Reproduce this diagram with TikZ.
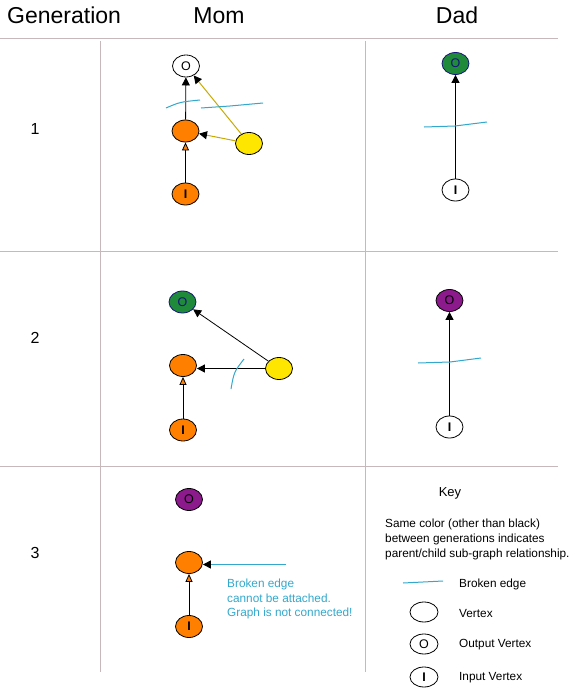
\documentclass[tikz,border=0pt]{standalone}
\usepackage{fontspec}
\setmainfont{Liberation Sans}
\usetikzlibrary{shapes.geometric,arrows.meta}
\definecolor{gridc}{RGB}{200,184,188}
\definecolor{brk}{RGB}{51,168,204}
\definecolor{orng}{RGB}{255,128,0}
\definecolor{ylw}{RGB}{255,230,0}
\definecolor{grn}{RGB}{30,138,58}
\definecolor{prp}{RGB}{140,26,140}
\definecolor{nvy}{RGB}{20,20,120}
\definecolor{gold}{RGB}{200,170,0}
\begin{document}
\begin{tikzpicture}[x=1pt,y=-1pt,
  vtx/.style={ellipse, draw=black, line width=0.8pt, minimum width=27pt, minimum height=22pt, inner sep=0pt, font=\fontsize{12.5}{12.5}\selectfont},
  outw/.style={vtx, fill=white},
  orn/.style={vtx, fill=orng},
  yel/.style={vtx, fill=ylw},
  gre/.style={vtx, fill=grn, draw=nvy, text=nvy},
  pur/.style={vtx, fill=prp},
  blk/.style={-{Triangle[length=8pt,width=8pt]}, black, line width=0.8pt},
  orarr/.style={-{Triangle[length=8pt,width=7pt,fill=orng]}, black, line width=0.8pt},
  goldarr/.style={-{Triangle[length=8pt,width=8pt,color=black]}, gold, line width=1pt},
  brkline/.style={brk, line width=1pt},
  gridline/.style={gridc, line width=1pt},
  head/.style={font=\fontsize{23}{23}\selectfont, inner sep=0pt},
  gen/.style={font=\fontsize{16}{16}\selectfont, inner sep=0pt},
  small/.style={font=\fontsize{11.8}{14.5}\selectfont, inner sep=0pt, align=left}
]
\useasboundingbox (0,0) rectangle (572,688);

% grid
\draw[gridline] (0,38.5) -- (558,38.5);
\draw[gridline] (0,251) -- (558,251);
\draw[gridline] (0,466) -- (558,466);
\draw[gridline] (100,41) -- (100,672);
\draw[gridline] (365,41) -- (365,672);

% headers
\node[head, anchor=base west] (hgen) at (7,23.5) {Generation};
\node[head, anchor=base] (hmom) at (219,23.5) {Mom};
\node[head, anchor=base] (hdad) at (457,23.5) {Dad};
\node[gen] (g1) at (35,129) {1};
\node[gen] (g2) at (35,338) {2};
\node[gen] (g3) at (35,553) {3};

% Generation 1, Mom
\node[outw] (o1) at (186,66) {O};
\node[orn] (m1) at (185.5,131) {};
\node[yel] (y1) at (249,143.5) {};
\node[orn] (i1) at (185.5,194) {\bfseries I};
\draw[orarr] (i1) -- (m1);
\draw[blk] (m1) -- (o1);
\draw[goldarr] (y1) -- (m1);
\draw[goldarr] (y1) -- (o1);
\draw[brkline] (166,108) .. controls (180,102) .. (200,100);
\draw[brkline] (201,108) -- (230,106) -- (263,103);

% Generation 1, Dad
\node[gre] (do1) at (455.5,63.5) {O};
\node[outw] (di1) at (455.5,190) {\bfseries I};
\draw[blk] (di1) -- (do1);
\draw[brkline] (424,127) -- (455,126) -- (487,122);

% Generation 2, Mom
\node[gre] (o2) at (182.5,302) {O};
\node[orn] (m2) at (183,365.5) {};
\node[yel] (y2) at (279,368.5) {};
\node[orn] (i2) at (183,430) {\bfseries I};
\draw[orarr] (i2) -- (m2);
\draw[blk] (y2) -- (o2);
\draw[blk] (y2.west) -- (m2.east |- y2.west);
\draw[brkline] (244,359) .. controls (234,372) .. (231,389);

% Generation 2, Dad
\node[pur] (do2) at (449.5,300.5) {O};
\node[outw] (di2) at (449.5,427) {\bfseries I};
\draw[blk] (di2) -- (do2);
\draw[brkline] (418,363) -- (450,362) -- (481,358);

% Generation 3, Mom
\node[pur] (o3) at (189,499.5) {O};
\node[orn] (m3) at (189,562.5) {};
\node[orn] (i3) at (189,626.5) {\bfseries I};
\draw[orarr] (i3) -- (m3);
\coordinate (c3) at (286,564.5);
\draw[-{Triangle[length=8pt,width=8pt,color=black]}, brk, line width=1pt] (c3) -- (m3.east |- c3);
\node[small, text=brk, anchor=north west] (note) at (227,579) {Broken edge\\cannot be attached.\\Graph is not connected!};

% Key
\node[font=\fontsize{13}{13}\selectfont, inner sep=0pt] (key) at (450,493) {Key};
\node[small, anchor=north west, font=\fontsize{11.8}{15}\selectfont] (keytxt) at (385,519) {Same color (other than black)\\between generations indicates\\parent/child sub-graph relationship.};
\coordinate (kb1) at (403,583);
\coordinate (kb2) at (443,581);
\draw[brkline] (kb1) -- (kb2);
\node[small, anchor=west] (kbt) at (459,584) {Broken edge};
\node[outw, minimum width=28pt, minimum height=20pt] (kv) at (424,612) {};
\node[small, anchor=west] (kvt) at (459,613) {Vertex};
\node[outw, minimum width=28pt, minimum height=20pt] (ko) at (424,644) {O};
\node[small, anchor=west] (kot) at (459,645) {Output Vertex};
\node[outw, minimum width=28pt, minimum height=20pt] (ki) at (424,677) {\bfseries I};
\node[small, anchor=west] (kit) at (459,678) {Input Vertex};
\end{tikzpicture}
\end{document}
